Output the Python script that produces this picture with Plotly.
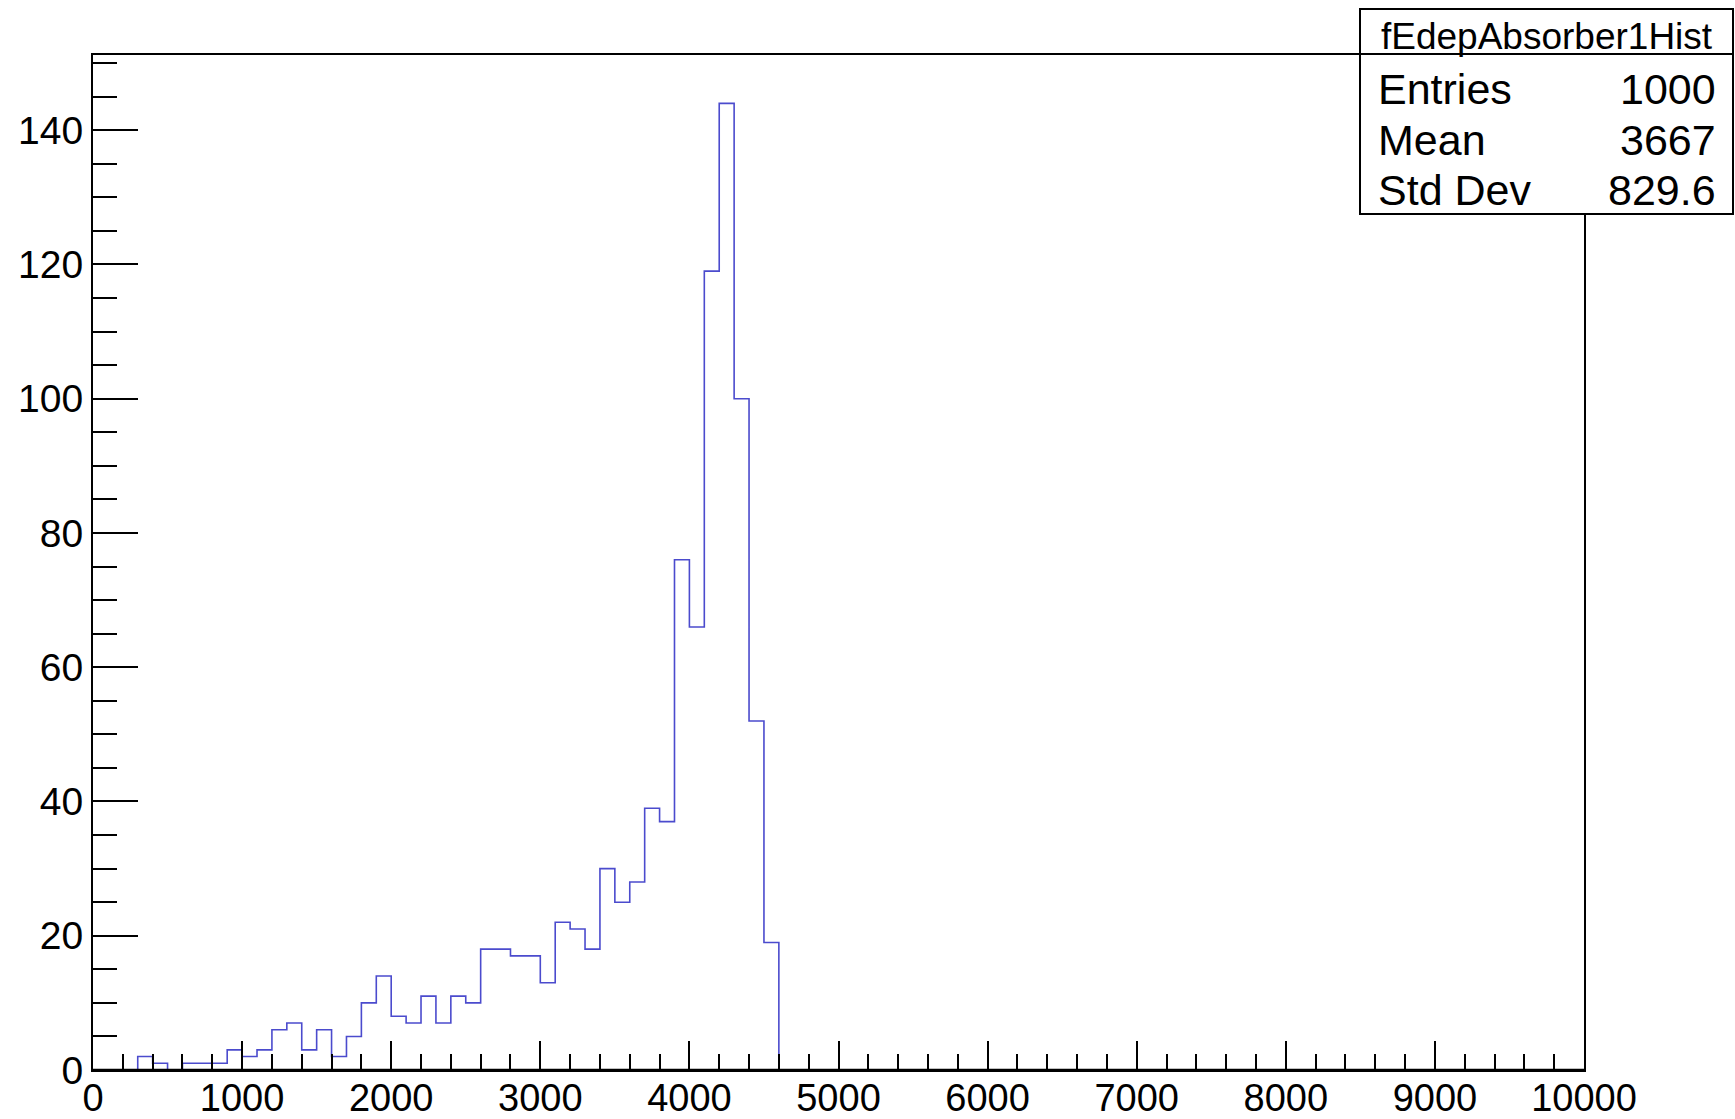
import plotly.graph_objects as go

# ---- data ----
bin_width = 100
x_min, x_max = 0, 10000
# counts for bins starting at 0, 100, 200, ... up to 4500 (all later bins are empty)
counts = [0, 0, 0, 2, 1, 0, 1, 1, 1, 3,
          2, 3, 6, 7, 3, 6, 2, 5, 10, 14,
          8, 7, 11, 7, 11, 10, 18, 18, 17, 17,
          13, 22, 21, 18, 30, 25, 28, 39, 37, 76,
          66, 119, 144, 100, 52, 19]
n_bins = 100
stats_title = "fEdepAbsorber1Hist"
stats_labels = ["Entries", "Mean", "Std Dev"]
stats_values = ["1000", "3667", "829.6"]

# full bin list
all_counts = counts + [0] * (n_bins - len(counts))
edges = [x_min + i * bin_width for i in range(n_bins + 1)]
y_step = all_counts + [all_counts[-1]]

W, H = 1735, 1119
L, R, T, B = 93, 1584, 55, 1070  # plot frame in pixels


def px(xp):
    return (xp - L) / (R - L)


def py(yp):
    return (B - yp) / (B - T)


fig = go.Figure()
fig.add_trace(go.Scatter(
    x=edges, y=y_step, mode="lines", line_shape="hv",
    line=dict(color="rgb(75,75,205)", width=1.6),
    hoverinfo="skip", showlegend=False,
))

y_font = dict(family="Liberation Sans, Arial, Helvetica, sans-serif", size=39, color="black")
x_font = dict(family="Liberation Sans, Arial, Helvetica, sans-serif", size=38, color="black")

fig.update_layout(
    width=W, height=H, autosize=False,
    margin=dict(l=L, r=W - R, t=T, b=H - B, pad=0, autoexpand=False),
    paper_bgcolor="white", plot_bgcolor="white",
    showlegend=False,
    xaxis=dict(
        range=[x_min, x_max], showgrid=False, zeroline=False, automargin=False,
        showline=True, mirror=True, linecolor="black", linewidth=2,
        ticks="inside", ticklen=29, tickwidth=2, tickcolor="black",
        tick0=0, dtick=1000, tickformat="d", tickfont=x_font, ticklabelstandoff=-7,
        minor=dict(ticks="inside", ticklen=16, tickwidth=2, tickcolor="black", dtick=200, showgrid=False),
    ),
    yaxis=dict(
        range=[0, 151.2], showgrid=False, zeroline=False, automargin=False,
        showline=True, mirror=True, linecolor="black", linewidth=2,
        ticks="inside", ticklen=45, tickwidth=2, tickcolor="black",
        tick0=0, dtick=20, tickformat="d", tickfont=y_font, ticklabelstandoff=0,
        minor=dict(ticks="inside", ticklen=24, tickwidth=2, tickcolor="black", dtick=5, showgrid=False),
    ),
)

# bottom frame line drawn over empty bins (as the ROOT frame does)
fig.add_shape(type="line", xref="paper", yref="paper", x0=0, x1=1, y0=0, y1=0,
              line=dict(color="black", width=2.5), layer="above")

# ---- stats box ----
bx0, bx1, by0, by1, bsep = 1360, 1733, 9, 214, 54
fig.add_shape(type="rect", xref="paper", yref="paper",
              x0=px(bx0), x1=px(bx1), y0=py(by1), y1=py(by0),
              line=dict(color="black", width=2), fillcolor="white", layer="above")
fig.add_shape(type="line", xref="paper", yref="paper",
              x0=px(bx0), x1=px(bx1), y0=py(bsep), y1=py(bsep),
              line=dict(color="black", width=2), layer="above")

stat_font_title = dict(family="Liberation Sans, Arial, Helvetica, sans-serif", size=37, color="black")
stat_font = dict(family="Liberation Sans, Arial, Helvetica, sans-serif", size=43, color="black")
fig.add_annotation(x=px((bx0 + bx1) / 2), y=py(37), xref="paper", yref="paper",
                   text=stats_title, showarrow=False, xanchor="center", yanchor="middle",
                   font=stat_font_title)
row_y = [89, 140, 190]
for lab, val, yy in zip(stats_labels, stats_values, row_y):
    fig.add_annotation(x=px(1376), y=py(yy), xref="paper", yref="paper", text=lab,
                       showarrow=False, xanchor="left", yanchor="middle", font=stat_font)
    fig.add_annotation(x=px(1718), y=py(yy), xref="paper", yref="paper", text=val,
                       showarrow=False, xanchor="right", yanchor="middle", font=stat_font)

fig.write_html(
    "out.html",
    config={"displayModeBar": False},
    post_script="document.body.style.margin='0';document.body.style.overflow='hidden';",
)
